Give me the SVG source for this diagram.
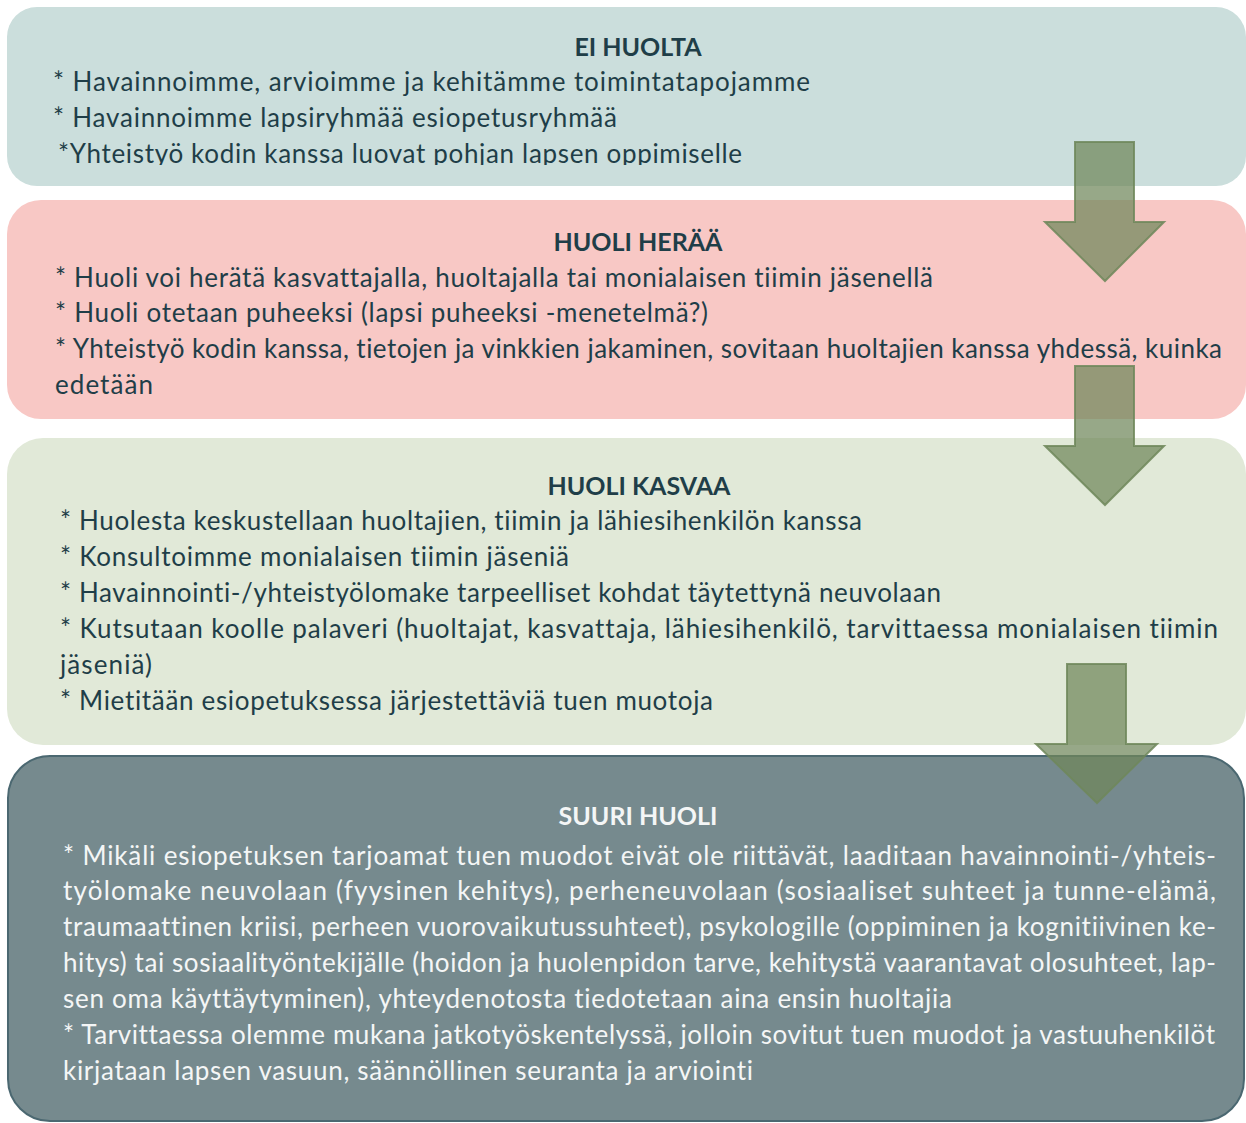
<svg xmlns="http://www.w3.org/2000/svg" width="1246" height="1123" viewBox="0 0 1246 1123">
<style>
.t{font-family:Lato,"Open Sans","Liberation Sans",sans-serif;font-size:26px;fill:#1f3e48;font-variant-ligatures:none}
.h{font-family:Lato,"Open Sans","Liberation Sans",sans-serif;font-size:25px;font-weight:bold;fill:#1f3e48;text-anchor:middle}
.w{fill:#f4f6f6}
.arrow{fill:#6f875a;fill-opacity:0.72;stroke:#6f875a;stroke-opacity:0.85;stroke-width:2}
</style>
<defs>
<clipPath id="c1"><rect x="0" y="0" width="1246" height="165"/></clipPath>
</defs>
<rect width="1246" height="1123" fill="#ffffff"/>
<g id="ei-huolta">
<rect x="7" y="7" width="1239" height="179" rx="30" fill="#cbdedc"/>
<text class="h" x="638" y="56">EI HUOLTA</text>
<text class="t" x="53" y="91" textLength="757">* Havainnoimme, arvioimme ja kehitämme toimintatapojamme</text>
<text class="t" x="53" y="127" textLength="564">* Havainnoimme lapsiryhmää esiopetusryhmää</text>
<text class="t" x="58" y="163" textLength="684" clip-path="url(#c1)">*Yhteistyö kodin kanssa luovat pohjan lapsen oppimiselle</text>
</g>
<g id="huoli-heraa">
<rect x="7" y="200" width="1239" height="219" rx="34" fill="#f8c8c5"/>
<text class="h" x="638" y="251">HUOLI HERÄÄ</text>
<text class="t" x="55" y="287" textLength="878">* Huoli voi herätä kasvattajalla, huoltajalla tai monialaisen tiimin jäsenellä</text>
<text class="t" x="55" y="322" textLength="653">* Huoli otetaan puheeksi (lapsi puheeksi -menetelmä?)</text>
<text class="t" x="55" y="358" textLength="1167">* Yhteistyö kodin kanssa, tietojen ja vinkkien jakaminen, sovitaan huoltajien kanssa yhdessä, kuinka</text>
<text class="t" x="55" y="394" textLength="98">edetään</text>
</g>
<g id="huoli-kasvaa">
<rect x="7" y="438" width="1239" height="307" rx="36" fill="#e1e9d8"/>
<text class="h" x="639" y="495">HUOLI KASVAA</text>
<text class="t" x="60" y="530" textLength="802">* Huolesta keskustellaan huoltajien, tiimin ja lähiesihenkilön kanssa</text>
<text class="t" x="60" y="566" textLength="509">* Konsultoimme monialaisen tiimin jäseniä</text>
<text class="t" x="60" y="602" textLength="881">* Havainnointi-/yhteistyölomake tarpeelliset kohdat täytettynä neuvolaan</text>
<text class="t" x="60" y="638" textLength="1158">* Kutsutaan koolle palaveri (huoltajat, kasvattaja, lähiesihenkilö, tarvittaessa monialaisen tiimin</text>
<text class="t" x="60" y="674" textLength="92">jäseniä)</text>
<text class="t" x="60" y="710" textLength="653">* Mietitään esiopetuksessa järjestettäviä tuen muotoja</text>
</g>
<g id="suuri-huoli">
<rect x="8" y="756" width="1236" height="365" rx="42" fill="#768a8e" stroke="#4b6871" stroke-width="2"/>
<text class="h w" x="638" y="825">SUURI HUOLI</text>
<text class="t w" x="63" y="865" textLength="1153">* Mikäli esiopetuksen tarjoamat tuen muodot eivät ole riittävät, laaditaan havainnointi-/yhteis-</text>
<text class="t w" x="63" y="900" textLength="1153">työlomake neuvolaan (fyysinen kehitys), perheneuvolaan (sosiaaliset suhteet ja tunne-elämä,</text>
<text class="t w" x="63" y="936" textLength="1153">traumaattinen kriisi, perheen vuorovaikutussuhteet), psykologille (oppiminen ja kognitiivinen ke-</text>
<text class="t w" x="63" y="972" textLength="1153">hitys) tai sosiaalityöntekijälle (hoidon ja huolenpidon tarve, kehitystä vaarantavat olosuhteet, lap-</text>
<text class="t w" x="63" y="1008" textLength="889">sen oma käyttäytyminen), yhteydenotosta tiedotetaan aina ensin huoltajia</text>
<text class="t w" x="63" y="1044" textLength="1152">* Tarvittaessa olemme mukana jatkotyöskentelyssä, jolloin sovitut tuen muodot ja vastuuhenkilöt</text>
<text class="t w" x="63" y="1080" textLength="690">kirjataan lapsen vasuun, säännöllinen seuranta ja arviointi</text>
</g>
<g id="connectors">
<polygon class="arrow" points="1075,142 1134,142 1134,222 1164,222 1105,281 1045,222 1075,222"/>
<polygon class="arrow" points="1075,366 1134,366 1134,446 1164,446 1105,505 1045,446 1075,446"/>
<polygon class="arrow" points="1067,664 1126,664 1126,744 1157,744 1097,803 1036,744 1067,744"/>
</g>
</svg>
